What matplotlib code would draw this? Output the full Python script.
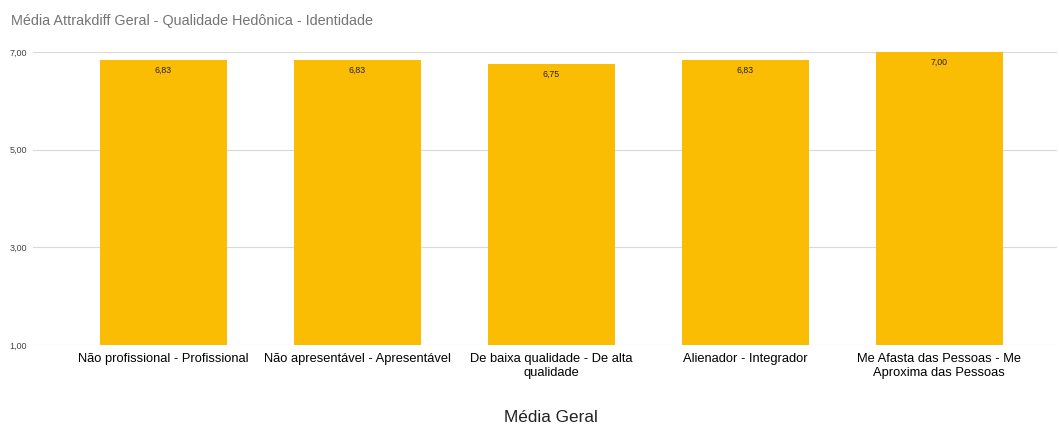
import matplotlib.pyplot as plt

plt.rcParams['font.family'] = ['Liberation Sans', 'DejaVu Sans']

categorias = [
    'Não profissional - Profissional',
    'Não apresentável - Apresentável',
    'De baixa qualidade - De alta\nqualidade',
    'Alienador - Integrador',
    'Me Afasta das Pessoas - Me\nAproxima das Pessoas',
]
medias = [6.83, 6.83, 6.75, 6.83, 7.00]
yticks = [1, 3, 5, 7]

fig = plt.figure(figsize=(10.59, 4.28), dpi=100)
ax = fig.add_axes([0.031, 0.194, 0.967, 0.6845])

x = range(len(categorias))
bars = ax.bar(x, medias, width=0.655, bottom=0, color='#fbbc04', zorder=2)

for xi, v in zip(x, medias):
    ax.annotate(f'{v:.2f}'.replace('.', ','), (xi, v), xytext=(0, -7.5),
                textcoords='offset points', ha='center', va='center',
                fontsize=6.3, color='#222222', zorder=3)

ax.set_ylim(1, 7)
ax.set_xlim(-0.674, 4.607)
ax.set_yticks(yticks)
ax.set_yticklabels([f'{t:.2f}'.replace('.', ',') for t in yticks],
                   fontsize=6.5, color='#444444')
ax.set_xticks(list(x))
ax.set_xticklabels(categorias, fontsize=9.3, color='#000000')
ax.tick_params(axis='both', length=0)
ax.tick_params(axis='y', pad=4)
ax.tick_params(axis='x', pad=6)
ax.grid(axis='y', color='#d9d9d9', linewidth=0.8, zorder=0)
for s in ax.spines.values():
    s.set_visible(False)

ax.set_xlabel('Média Geral', fontsize=12.3, color='#222222')
ax.xaxis.set_label_coords(0.5056, -0.222)
fig.text(0.01, 0.95, 'Média Attrakdiff Geral - Qualidade Hedônica - Identidade',
         fontsize=10.4, color='#757575', va='center')

fig.savefig('out.png', dpi=100, facecolor='white')
